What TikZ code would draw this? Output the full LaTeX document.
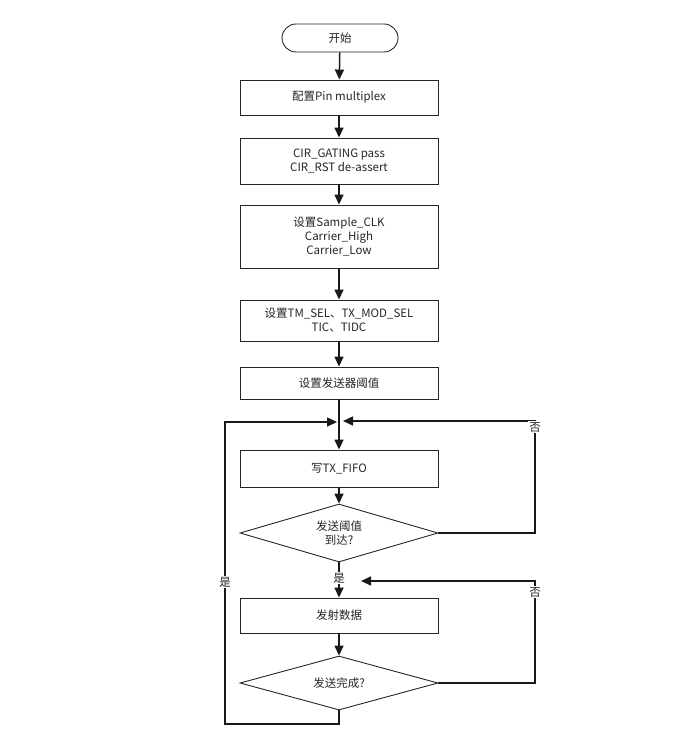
\documentclass[tikz,border=0pt]{standalone}
\usepackage{fontspec}
\setmainfont{Noto Sans CJK SC}
\usetikzlibrary{arrows.meta,shapes.geometric,shapes.misc}
\begin{document}
\begin{tikzpicture}[x=1pt,y=-1pt,
  every node/.style={font=\fontsize{11.5}{14}\selectfont, text=black!85, align=center},
  proc/.style={draw=black!85, line width=0.9pt, minimum width=198pt, inner sep=0pt, fill=white},
  term/.style={draw=black!85, line width=0.9pt, rounded rectangle, minimum width=116pt, minimum height=28pt, inner sep=0pt},
  dec/.style={draw=black!85, line width=0.9pt, diamond, minimum width=198pt, inner sep=0pt, aspect=3.4},
  conn/.style={line width=1.5pt, draw=black!90},
  arr/.style={conn, -{Triangle[length=10pt,width=9pt]}},
  lbl/.style={fill=white, inner sep=1pt}
]
\useasboundingbox (0,0) rectangle (700,746);
\node[term] (start) at (340,38) {开始};
\node[proc, minimum height=35pt] (b1) at (339,97.5) {配置Pin multiplex};
\node[proc, minimum height=46pt] (b2) at (339,161) {CIR\_GATING pass\\CIR\_RST de-assert};
\node[proc, minimum height=63pt] (b3) at (339,236.5) {设置Sample\_CLK\\Carrier\_High\\Carrier\_Low};
\node[proc, minimum height=41pt] (b4) at (339,320.5) {设置TM\_SEL、TX\_MOD\_SEL\\TIC、TIDC};
\node[proc, minimum height=32pt] (b5) at (339,383) {设置发送器阈值};
\node[proc, minimum height=37pt] (b6) at (339,468.5) {写TX\_FIFO};
\node[dec, minimum height=58pt] (d1) at (339,533) {发送阈值\\到达?};
\node[proc, minimum height=35pt] (b7) at (339,615.5) {发射数据};
\node[dec, minimum height=54pt] (d2) at (339,683) {发送完成?};
\coordinate (jr) at (343,421);
\coordinate (jl) at (337,422);
\coordinate (r2) at (361,581);
\draw[arr] (start) -- (b1);
\draw[arr] (b1) -- (b2);
\draw[arr] (b2) -- (b3);
\draw[arr] (b3) -- (b4);
\draw[arr] (b4) -- (b5);
\draw[arr] (b5) -- (b6);
\draw[arr] (b6) -- (d1);
\draw[arr] (d1) -- (b7);
\draw[arr] (b7) -- (d2);
\draw[arr] (d1.east) -| (535,421) -- (jr);
\draw[arr] (d2.east) -| (535,581) -- (r2);
\draw[arr] (d2.south) -- (339,724) -| (225,422) -- (jl);
\node[lbl] (yes1) at (339,578) {是};
\node[lbl] (no1) at (535,427) {否};
\node[lbl] (no2) at (535,592) {否};
\node[lbl] (yes2) at (225,582) {是};
\end{tikzpicture}
\end{document}
